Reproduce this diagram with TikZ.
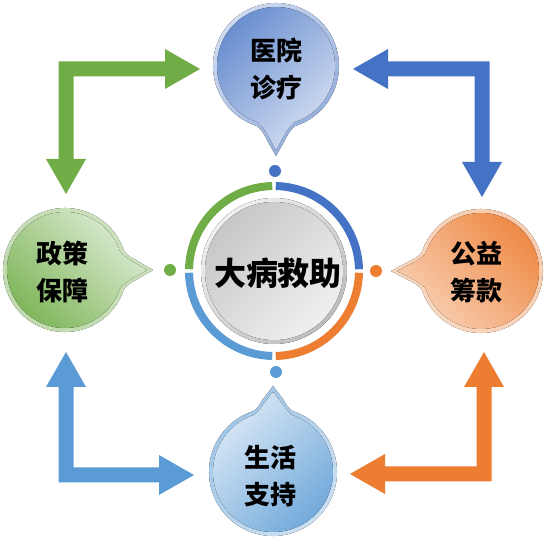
\documentclass[tikz,border=0pt]{standalone}
\usepackage{fontspec}
\newfontfamily\cjk{Noto Sans CJK SC}
\definecolor{cblue}{HTML}{4472C4}
\definecolor{corange}{HTML}{ED7D31}
\definecolor{clblue}{HTML}{5B9BD5}
\definecolor{cgreen}{HTML}{70AD47}
% bubble: cx cy r dir tipdist outerstyle innerstyle
\newcommand\bubble[7]{%
  \fill[#6] ({#1+#3*cos(#4+18)},{#2+#3*sin(#4+18)})
     arc[start angle={#4+18}, end angle={#4+342}, radius={#3*1pt}]
     .. controls ({#1+1.004*#3*cos(#4-15)},{#2+1.004*#3*sin(#4-15)}) and ({#1+(#3+6)*cos(#4-10)},{#2+(#3+6)*sin(#4-10)})
     .. ({#1+(#3+8)*cos(#4-9)},{#2+(#3+8)*sin(#4-9)})
     -- ({#1+#5*cos(#4)},{#2+#5*sin(#4)})
     -- ({#1+(#3+8)*cos(#4+9)},{#2+(#3+8)*sin(#4+9)})
     .. controls ({#1+(#3+6)*cos(#4+10)},{#2+(#3+6)*sin(#4+10)}) and ({#1+1.004*#3*cos(#4+15)},{#2+1.004*#3*sin(#4+15)})
     .. cycle;
  \fill[#7] ({#1+(#3-4)*cos(#4+19)},{#2+(#3-4)*sin(#4+19)})
     arc[start angle={#4+19}, end angle={#4+341}, radius={(#3-4)*1pt}]
     .. controls ({#1+1.004*(#3-4)*cos(#4-16)},{#2+1.004*(#3-4)*sin(#4-16)}) and ({#1+(#3+2)*cos(#4-10)},{#2+(#3+2)*sin(#4-10)})
     .. ({#1+(#3+4)*cos(#4-8.5)},{#2+(#3+4)*sin(#4-8.5)})
     -- ({#1+(#5-6)*cos(#4)},{#2+(#5-6)*sin(#4)})
     -- ({#1+(#3+4)*cos(#4+8.5)},{#2+(#3+4)*sin(#4+8.5)})
     .. controls ({#1+(#3+2)*cos(#4+10)},{#2+(#3+2)*sin(#4+10)}) and ({#1+1.004*(#3-4)*cos(#4+16)},{#2+1.004*(#3-4)*sin(#4+16)})
     .. cycle;
}
% elbow arrow: color cx cy xscale yscale L1 L2
\newcommand\elbowarr[7]{%
  \begin{scope}[shift={(#2,#3)}, xscale=#4, yscale=#5]
  \fill[#1] (-7.5,7.5) -- ({#6-35},7.5) -- ({#6-35},20) -- (#6,0) -- ({#6-35},-20) -- ({#6-35},-7.5) -- (7.5,-7.5) -- (7.5,{-(#7-35)}) -- (20,{-(#7-35)}) -- (0,{-#7}) -- (-20,{-(#7-35)}) -- (-7.5,{-(#7-35)}) -- cycle;
  \end{scope}}
\tikzset{
  txt/.style={align=center, text=black, inner sep=0pt, font=\cjk\bfseries\fontsize{26}{37}\selectfont},
  dot/.style={circle, inner sep=0pt, minimum size=12pt},
}
\begin{document}
\begin{tikzpicture}[x=1pt,y=1pt]
\useasboundingbox (0,0) rectangle (550,547);
\fill[white] (0,0) rectangle (550,547);

% elbow arrows
\elbowarr{cgreen}{66}{478}{1}{1}{134}{125}
\elbowarr{cblue}{482}{478}{-1}{1}{129}{128}
\elbowarr{clblue}{66}{72}{1}{-1}{128}{123}
\elbowarr{corange}{484}{73}{-1}{-1}{134}{122}

% bubbles
\bubble{276}{481}{63}{-90}{90}
  {shading=axis, top color=cblue!25, bottom color=cblue!60, shading angle=45}
  {shading=axis, top color=cblue!82, bottom color=cblue!22, shading angle=45}
\bubble{65}{277}{62}{0}{88}
  {shading=axis, top color=cgreen!35, bottom color=cgreen!45, shading angle=-45}
  {shading=axis, top color=cgreen!22, bottom color=cgreen!92, shading angle=-45}
\bubble{481}{276}{62}{180}{90}
  {shading=axis, top color=corange!40, bottom color=corange!30, shading angle=-45}
  {shading=axis, top color=corange!92, bottom color=corange!35, shading angle=-45}
\bubble{273}{75}{64}{90}{86}
  {shading=axis, top color=clblue!60, bottom color=clblue!30, shading angle=45}
  {shading=axis, top color=clblue!22, bottom color=clblue!88, shading angle=45}

% dots
\node[dot, fill=cblue] (d1) at (275,376) {};
\node[dot, fill=corange] (d2) at (376,276) {};
\node[dot, fill=clblue] (d3) at (276,175) {};
\node[dot, fill=cgreen] (d4) at (170,277) {};

% centre ring
\foreach \a/\c in {0/cblue,90/cgreen,180/clblue,270/corange}
  \draw[\c, line width=8pt] ({274+85*cos(\a+1.2)},{276+85*sin(\a+1.2)}) arc[start angle={\a+1.2}, end angle={\a+88.8}, radius=85pt];
\fill[shading=axis, top color=black!6, bottom color=black!26, shading angle=45] (274,276) circle[radius=73pt];
\fill[shading=axis, top color=black!22, bottom color=black!6, shading angle=45] (274,276) circle[radius=69pt];

% texts
\node[txt, font=\cjk\bfseries\fontsize{32}{38}\selectfont] (c) at (278,274) {大病救助};
\node[txt] (n1) at (276,478) {医院\\诊疗};
\node[txt] (n2) at (63,275) {政策\\保障};
\node[txt] (n3) at (476,275) {公益\\筹款};
\node[txt] (n4) at (270,71) {生活\\支持};
\end{tikzpicture}
\end{document}
